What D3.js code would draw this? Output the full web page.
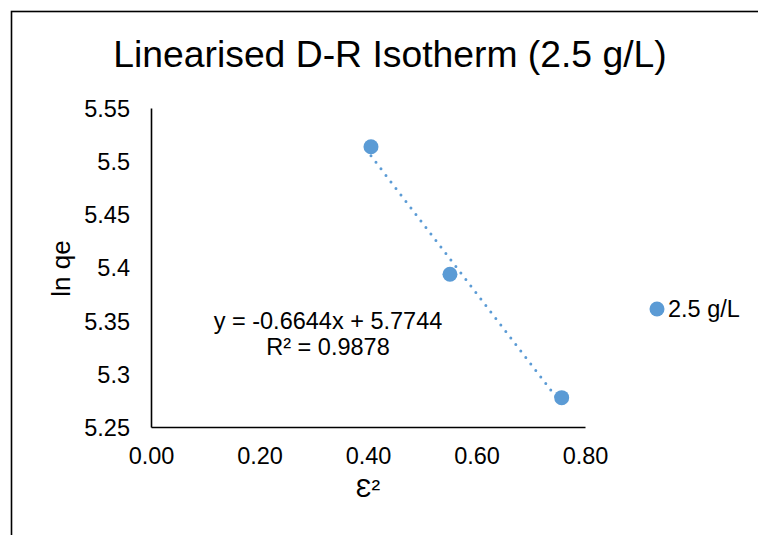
<!DOCTYPE html>
<html>
<head>
<meta charset="utf-8">
<script src="https://cdn.jsdelivr.net/npm/d3@7"></script>
<style>
  html, body { margin: 0; padding: 0; background: #fff; }
  svg { display: block; font-family: "Liberation Sans", Arial, sans-serif; }
</style>
</head>
<body>
<svg id="chart" width="758" height="535"></svg>
<script>
// Data: squared Polanyi potential vs ln qe at 2.5 g/L
const epsSq = [0.4055, 0.5511, 0.7570];
const lnQe = [5.5136, 5.3936, 5.2776];
const seriesName = "2.5 g/L";

// Linear trendline as reported in the equation label
const trendSlope = -0.6644;
const trendIntercept = 5.7744;
const rSquared = "0.9878";

// Axis ticks
const xTicks = [0, 0.2, 0.4, 0.6, 0.8];
const xTickLabels = ["0.00", "0.20", "0.40", "0.60", "0.80"];
const yTicks = [5.25, 5.3, 5.35, 5.4, 5.45, 5.5, 5.55];
const yTickLabels = ["5.25", "5.3", "5.35", "5.4", "5.45", "5.5", "5.55"];

const colour = "#5B9BD5";
const tickFont = 23.5;
const axisTitleFont = 26;
const svg = d3.select("#chart");

// Outer chart frame
svg.append("rect")
  .attr("x", 11.5).attr("y", 11.5)
  .attr("width", 800).attr("height", 600)
  .attr("fill", "#fff").attr("stroke", "#000").attr("stroke-width", 1.6);

const plot = { left: 151, right: 585, top: 108, bottom: 427 };

const x = d3.scaleLinear().domain([0, 0.8]).range([plot.left, plot.right]);
const y = d3.scaleLinear().domain([5.25, 5.55]).range([plot.bottom, plot.top]);

// Title
svg.append("text")
  .attr("x", 390).attr("y", 67)
  .attr("text-anchor", "middle")
  .attr("font-size", 37.3)
  .attr("fill", "#000")
  .text("Linearised D-R Isotherm (2.5 g/L)");

// Axes (lines only, no tick marks)
const xAxis = d3.axisBottom(x).tickValues(xTicks)
  .tickFormat((d, i) => xTickLabels[i]).tickSize(0).tickPadding(20.3);
const yAxis = d3.axisLeft(y).tickValues(yTicks)
  .tickFormat((d, i) => yTickLabels[i]).tickSize(0).tickPadding(21);

const gx = svg.append("g").attr("transform", `translate(0,${plot.bottom})`).call(xAxis);
const gy = svg.append("g").attr("transform", `translate(${plot.left},0)`).call(yAxis);

[gx, gy].forEach(g => {
  g.attr("font-size", tickFont).attr("font-family", "'Liberation Sans', Arial, sans-serif");
  g.select(".domain").attr("stroke", "#000").attr("stroke-width", 1.6);
  g.selectAll("text").attr("fill", "#000");
});
gy.selectAll("text").attr("dy", "0.36em");

// Axis titles
svg.append("text")
  .attr("transform", `translate(69.5,268.5) rotate(-90)`)
  .attr("text-anchor", "middle")
  .attr("font-size", axisTitleFont)
  .text("ln qe");

svg.append("text")
  .attr("x", 368).attr("y", 497)
  .attr("text-anchor", "middle")
  .attr("font-size", axisTitleFont)
  .text("\u0190\u00B2");

// Dotted trendline across the data range
const xMin = d3.min(epsSq), xMax = d3.max(epsSq);
svg.append("line")
  .attr("x1", x(xMin)).attr("y1", y(trendSlope * xMin + trendIntercept))
  .attr("x2", x(xMax)).attr("y2", y(trendSlope * xMax + trendIntercept))
  .attr("stroke", colour)
  .attr("stroke-width", 3)
  .attr("stroke-linecap", "round")
  .attr("stroke-dasharray", "0,8.2");

// Data points
svg.append("g").selectAll("circle")
  .data(epsSq.map((d, i) => [d, lnQe[i]]))
  .join("circle")
  .attr("cx", d => x(d[0]))
  .attr("cy", d => y(d[1]))
  .attr("r", 7.5)
  .attr("fill", colour);

// Trendline equation
const eq = svg.append("text")
  .attr("text-anchor", "middle")
  .attr("font-size", tickFont)
  .attr("fill", "#000");
eq.append("tspan").attr("x", 328).attr("y", 329)
  .text(`y = ${trendSlope}x + ${trendIntercept}`);
eq.append("tspan").attr("x", 328).attr("y", 355)
  .text(`R\u00B2 = ${rSquared}`);

// Legend
svg.append("circle")
  .attr("cx", 657).attr("cy", 309).attr("r", 7.5)
  .attr("fill", colour);
svg.append("text")
  .attr("x", 668).attr("y", 317.3)
  .attr("font-size", tickFont)
  .text(seriesName);
</script>
</body>
</html>
